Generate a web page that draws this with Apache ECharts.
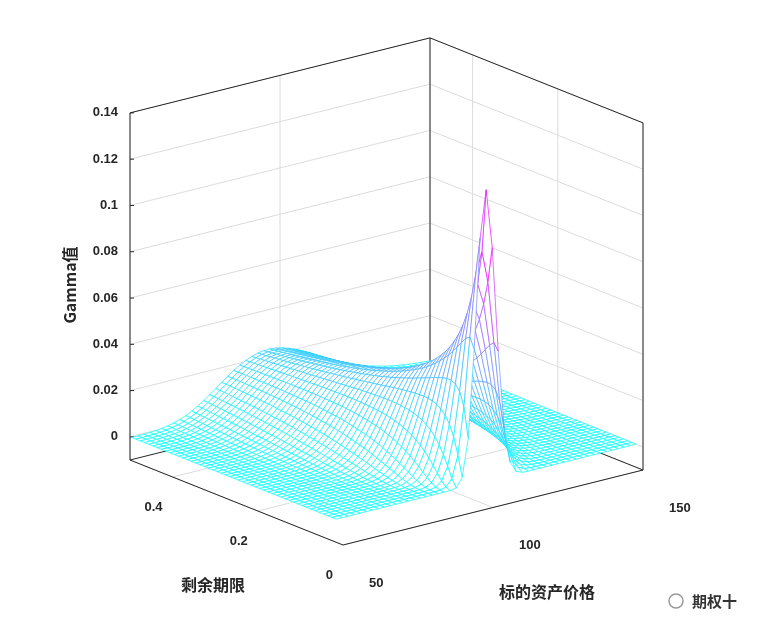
<!DOCTYPE html><html><head><meta charset="utf-8">
<script src="https://cdn.jsdelivr.net/npm/echarts@6/dist/echarts.min.js"></script>
<style>html,body{margin:0;background:#fff}#c{width:772px;height:634px}</style></head><body><div id="c"></div>
<script>
// model parameters of the option (Black-Scholes gamma surface)
const strike=100, vol=0.25, rate=0;
const priceGrid=[];for(let s=50;s<=150;s+=2)priceGrid.push(s);
const maturityGrid=[];for(let k=0;k<=48;k++)maturityGrid.push(0.016+k/100);
const zTicks=[0,0.02,0.04,0.06,0.08,0.1,0.12,0.14];
const tTicks=[0,0.2,0.4];
const sTicks=[50,100,150];
function pdf(x){return Math.exp(-x*x/2)/Math.sqrt(2*Math.PI);}
const gammaGrid=maturityGrid.map(T=>priceGrid.map(S=>{const d1=(Math.log(S/strike)+(rate+vol*vol/2)*T)/(vol*Math.sqrt(T));return pdf(d1)/(S*vol*Math.sqrt(T));}));
// projection
const O=[343,545],VS=[3.0,-0.75],VT=[-426,-170],VZ=-2314,ZMIN=-0.01,ZMAX=0.14;
function P(S,T,z){return [O[0]+VS[0]*(S-50)+VT[0]*T, O[1]+VS[1]*(S-50)+VT[1]*T+VZ*(z-ZMIN)];}
const zmax=Math.max(...gammaGrid.flat());
function col(z){const t=Math.max(0,Math.min(1,z/zmax));return `rgb(${Math.round(255*t)},${Math.round(255*(1-t))},255)`;}
const quads=[];
for(let j=0;j<maturityGrid.length-1;j++)for(let i=0;i<priceGrid.length-1;i++)quads.push([i,j]);
quads.sort((a,b)=>(b[0]/priceGrid.length+b[1]/maturityGrid.length)-(a[0]/priceGrid.length+a[1]/maturityGrid.length));
const chart=echarts.init(document.getElementById('c'));
const gray='#dcdcdc',dark='#262626',font='bold 13px "Liberation Sans",Arial';
function line(api,a,b,c){const p=api.coord(a),q=api.coord(b);return{type:'line',shape:{x1:p[0],y1:p[1],x2:q[0],y2:q[1]},style:{stroke:c,lineWidth:1}};}
function frame(params,api){
 const ch=[];const c=(S,T,z)=>P(S,T,z);
 zTicks.forEach(z=>{ch.push(line(api,c(50,0.5,z),c(150,0.5,z),gray));ch.push(line(api,c(150,0.5,z),c(150,0,z),gray));});
 tTicks.forEach(t=>{ch.push(line(api,c(150,t,ZMIN),c(150,t,ZMAX),gray));ch.push(line(api,c(50,t,ZMIN),c(150,t,ZMIN),gray));});
 sTicks.forEach(s=>{ch.push(line(api,c(s,0.5,ZMIN),c(s,0.5,ZMAX),gray));ch.push(line(api,c(s,0,ZMIN),c(s,0.5,ZMIN),gray));});
 [[c(50,.5,ZMIN),c(50,.5,ZMAX)],[c(150,.5,ZMIN),c(150,.5,ZMAX)],[c(150,0,ZMIN),c(150,0,ZMAX)],[c(50,.5,ZMAX),c(150,.5,ZMAX)],[c(150,.5,ZMAX),c(150,0,ZMAX)],
  [c(50,0,ZMIN),c(50,.5,ZMIN)],[c(50,0,ZMIN),c(150,0,ZMIN)],[c(50,.5,ZMIN),c(150,.5,ZMIN)],[c(150,0,ZMIN),c(150,.5,ZMIN)]].forEach(e=>ch.push(line(api,e[0],e[1],dark)));
 zTicks.forEach(z=>{const p=api.coord(c(50,0.5,z));ch.push({type:'line',shape:{x1:p[0],y1:p[1],x2:p[0]+4,y2:p[1]},style:{stroke:dark}});
   ch.push({type:'text',style:{x:p[0]-12,y:p[1],text:String(z),font,fill:dark,align:'right',verticalAlign:'middle'}});});
 tTicks.forEach(t=>{const p=api.coord(c(50,t,ZMIN));ch.push({type:'text',style:{x:p[0]-10,y:p[1]+30,text:String(t),font,fill:dark,align:'right',verticalAlign:'middle'}});});
 sTicks.forEach(s=>{const p=api.coord(c(s,0,ZMIN));ch.push({type:'text',style:{x:p[0]+26,y:p[1]+38,text:String(s),font,fill:dark,align:'left',verticalAlign:'middle'}});});
 const f2='bold 16px "Noto Sans CJK SC",sans-serif';
 ch.push({type:'text',rotation:Math.PI/2,x:70,y:285,style:{x:0,y:0,text:'Gamma值',font:f2,fill:dark,align:'center',verticalAlign:'middle'}});
 ch.push({type:'text',style:{x:213,y:585,text:'剩余期限',font:f2,fill:dark,align:'center',verticalAlign:'middle'}});
 ch.push({type:'text',style:{x:547,y:592,text:'标的资产价格',font:f2,fill:dark,align:'center',verticalAlign:'middle'}});
 ch.push({type:'text',style:{x:692,y:601,text:'期权十',font:'bold 15px "Noto Sans CJK SC",sans-serif',fill:'#333',align:'left',verticalAlign:'middle'}});
 ch.push({type:'circle',shape:{cx:676,cy:601,r:7},style:{fill:'none',stroke:'#999',lineWidth:1.5}});
 return{type:'group',children:ch};
}
function mesh(params,api){
 const [i,j]=quads[params.dataIndex];
 const pts=[[i,j],[i+1,j],[i+1,j+1],[i,j+1]].map(([a,b])=>api.coord(P(priceGrid[a],maturityGrid[b],gammaGrid[b][a])));
 const z=gammaGrid[j][i];
 return{type:'polygon',shape:{points:pts},style:{fill:'#fff',stroke:col(z),lineWidth:0.7}};
}
chart.setOption({animation:false,
 grid:{left:0,right:0,top:0,bottom:0},
 xAxis:{type:'value',min:0,max:772,show:false},yAxis:{type:'value',min:0,max:634,inverse:true,show:false},
 series:[{type:'custom',renderItem:frame,data:[0],z:1},
  {type:'custom',renderItem:mesh,data:quads.map((q,k)=>k),z:2}]});
</script></body></html>
